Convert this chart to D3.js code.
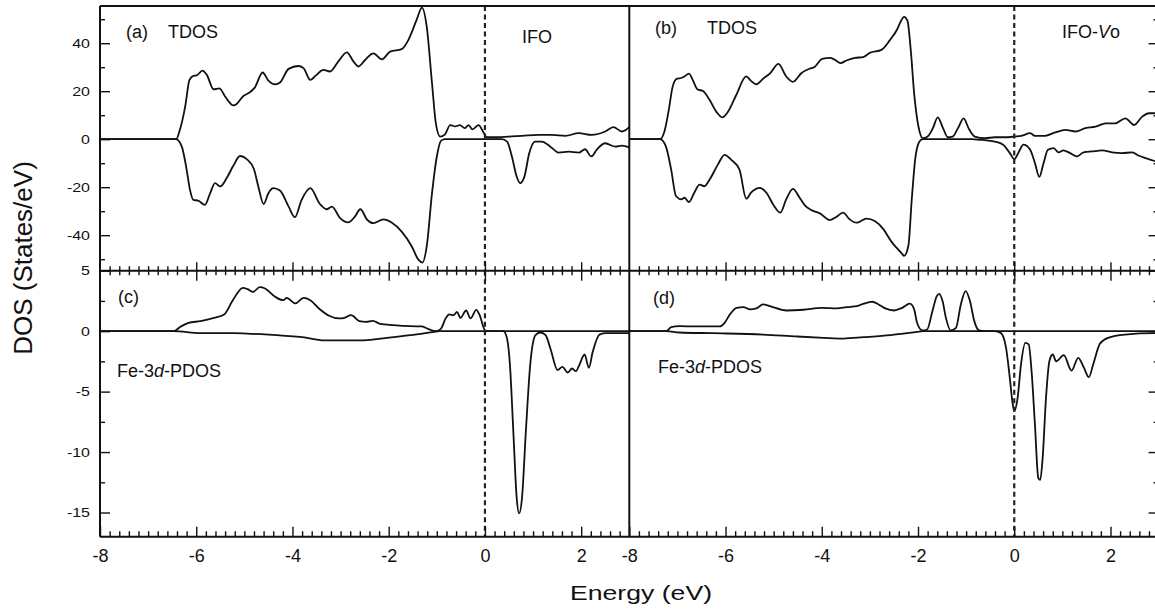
<!DOCTYPE html>
<html>
<head>
<meta charset="utf-8">
<title>DOS</title>
<script src="https://d3js.org/d3.v7.min.js"></script>
<style>
  body { margin: 0; background: #fff; }
  svg text { font-family: "Liberation Sans", Arial, sans-serif; fill: #111; }
  .curve { fill: none; stroke: #111; stroke-width: 1.8; stroke-linejoin: round; }
  .frame { stroke: #111; stroke-width: 2; }
  .tick line { stroke: #111; stroke-width: 1.4; }
</style>
</head>
<body>
<div id="chart"></div>
<script>
// ---- data: [energy (eV), DOS] ----
var tdosIfoUp = [[-8,0],[-6.42,0],[-6.34,3.9],[-6.23,13.6],[-6.14,24.7],[-6.06,26.4],[-5.99,26.6],[-5.87,28.6],[-5.78,26.8],[-5.64,20.8],[-5.52,21.2],[-5.40,17.8],[-5.23,14.1],[-5.16,14.7],[-5.02,18.0],[-4.92,19.1],[-4.78,21.6],[-4.62,27.8],[-4.50,24.4],[-4.36,22.8],[-4.26,23.6],[-4.08,29.3],[-3.88,30.5],[-3.77,29.6],[-3.63,24.7],[-3.50,26.8],[-3.36,28.9],[-3.22,28.2],[-3.05,32.3],[-2.87,36.2],[-2.73,32.3],[-2.63,30.3],[-2.49,33.0],[-2.32,35.8],[-2.14,33.3],[-1.97,36.5],[-1.73,37.5],[-1.59,41.4],[-1.42,49.7],[-1.31,54.8],[-1.21,46.9],[-1.10,23.3],[-1.02,6.6],[-0.93,1.1],[-0.84,1.8],[-0.72,5.9],[-0.62,5.3],[-0.52,5.9],[-0.42,4.6],[-0.34,5.9],[-0.26,4.1],[-0.13,5.9],[-0.06,3.9],[0.04,0.8],[0.28,0.8],[0.49,1.1],[0.77,1.4],[1.11,1.8],[1.39,1.8],[1.67,1.4],[1.95,2.5],[2.22,1.8],[2.50,3.2],[2.67,5.0],[2.85,3.2],[3.0,5.0]];
var tdosIfoDown = [[-8,0],[-6.42,0],[-6.30,-3.1],[-6.21,-11.4],[-6.13,-21.1],[-6.06,-25.3],[-5.96,-25.6],[-5.82,-27.4],[-5.71,-22.5],[-5.61,-18.3],[-5.50,-19.7],[-5.37,-16.3],[-5.23,-11.1],[-5.09,-7.0],[-4.95,-8.3],[-4.80,-12.5],[-4.71,-19.7],[-4.60,-27.0],[-4.50,-22.5],[-4.40,-20.4],[-4.26,-21.4],[-4.08,-28.1],[-3.95,-32.5],[-3.81,-25.3],[-3.63,-20.4],[-3.43,-27.0],[-3.29,-29.2],[-3.18,-28.1],[-3.01,-32.9],[-2.84,-34.7],[-2.70,-32.2],[-2.59,-29.2],[-2.45,-33.5],[-2.32,-35.0],[-2.11,-33.4],[-1.94,-34.7],[-1.73,-38.5],[-1.52,-44.7],[-1.38,-50.3],[-1.30,-51.4],[-1.21,-44.7],[-1.10,-22.5],[-1.00,-7.2],[-0.91,-0.6],[-0.83,0],[0.35,0],[0.46,-1.0],[0.56,-7.2],[0.66,-15.6],[0.73,-18.3],[0.82,-15.6],[0.92,-5.9],[1.04,-1.0],[1.18,-1.0],[1.36,-3.1],[1.53,-5.6],[1.74,-5.2],[1.95,-5.6],[2.08,-4.2],[2.21,-7.2],[2.33,-4.2],[2.50,-1.7],[2.71,-3.1],[2.85,-2.7],[3.0,-3.4]];
var tdosVoUp = [[-8,0],[-7.36,0],[-7.27,3.2],[-7.18,12.1],[-7.10,21.8],[-7.01,25.2],[-6.92,25.5],[-6.85,26.2],[-6.76,27.3],[-6.68,24.6],[-6.58,20.7],[-6.47,20.1],[-6.33,16.3],[-6.19,11.4],[-6.07,9.1],[-5.95,11.4],[-5.78,18.3],[-5.57,26.2],[-5.47,24.3],[-5.36,22.9],[-5.22,25.2],[-5.08,27.3],[-4.90,31.4],[-4.74,26.2],[-4.60,23.9],[-4.42,27.6],[-4.25,29.4],[-4.15,30.1],[-3.99,33.5],[-3.83,33.9],[-3.73,33.1],[-3.61,31.7],[-3.49,32.8],[-3.31,33.9],[-3.14,34.2],[-3.00,36.0],[-2.76,37.2],[-2.58,41.4],[-2.44,45.5],[-2.36,49.0],[-2.29,51.0],[-2.22,49.4],[-2.15,37.0],[-2.08,19.0],[-1.99,5.2],[-1.90,0.4],[-1.80,1.1],[-1.69,4.6],[-1.59,9.1],[-1.48,4.6],[-1.38,0.8],[-1.28,1.1],[-1.17,4.6],[-1.05,8.7],[-0.95,4.6],[-0.82,1.1],[-0.61,0.4],[-0.40,0.8],[-0.20,0.8],[0.01,1.1],[0.15,1.4],[0.33,2.5],[0.43,1.4],[0.64,1.4],[0.85,2.8],[1.06,3.9],[1.27,3.2],[1.48,4.6],[1.69,5.2],[1.90,6.6],[2.10,6.6],[2.31,8.7],[2.49,5.9],[2.66,9.4],[2.80,10.8],[3.0,10.8]];
var tdosVoDown = [[-8,0],[-7.36,0],[-7.24,-3.0],[-7.13,-12.7],[-7.03,-23.7],[-6.92,-25.1],[-6.85,-24.4],[-6.76,-26.2],[-6.65,-22.3],[-6.54,-18.9],[-6.44,-19.6],[-6.33,-16.8],[-6.16,-10.6],[-6.02,-6.5],[-5.88,-8.6],[-5.71,-12.7],[-5.57,-24.8],[-5.47,-22.3],[-5.29,-20.3],[-5.15,-22.3],[-5.01,-27.2],[-4.86,-30.6],[-4.74,-25.1],[-4.60,-20.7],[-4.46,-24.4],[-4.35,-27.6],[-4.22,-29.5],[-4.04,-30.9],[-3.83,-33.7],[-3.69,-32.3],[-3.56,-30.6],[-3.42,-33.4],[-3.28,-34.8],[-3.07,-33.1],[-2.90,-34.1],[-2.72,-37.5],[-2.55,-42.8],[-2.41,-46.0],[-2.33,-47.8],[-2.29,-48.6],[-2.20,-44.4],[-2.13,-25.1],[-2.06,-8.6],[-1.97,-1.0],[-1.90,0],[-0.89,0],[-0.68,-0.3],[-0.40,-1.0],[-0.23,-2.3],[-0.09,-5.8],[0.0,-8.3],[0.10,-5.1],[0.19,-2.3],[0.33,-4.4],[0.43,-9.9],[0.52,-15.7],[0.61,-9.9],[0.70,-4.4],[0.82,-3.7],[0.92,-5.5],[1.02,-4.7],[1.16,-5.8],[1.30,-7.2],[1.44,-5.5],[1.62,-5.1],[1.83,-4.7],[2.03,-5.5],[2.24,-5.8],[2.45,-5.5],[2.59,-6.9],[2.73,-7.9],[2.94,-9.2],[3.0,-9.5]];

var pdosIfoUp = [[-8,0],[-6.47,0],[-6.33,0.36],[-6.16,0.69],[-5.91,0.83],[-5.63,1.10],[-5.42,1.38],[-5.24,2.56],[-5.03,3.58],[-4.93,3.47],[-4.82,3.25],[-4.68,3.64],[-4.57,3.53],[-4.36,2.84],[-4.19,2.56],[-4.12,2.75],[-3.94,2.29],[-3.77,2.75],[-3.63,2.56],[-3.45,1.87],[-3.24,1.27],[-3.03,1.05],[-2.92,1.10],[-2.78,1.32],[-2.61,0.83],[-2.47,0.77],[-2.33,0.85],[-2.18,0.61],[-1.90,0.50],[-1.55,0.41],[-1.31,0.39],[-1.17,0.17],[-1.03,0],[-0.92,0.17],[-0.81,1.10],[-0.74,1.38],[-0.65,1.32],[-0.58,1.60],[-0.51,1.10],[-0.39,1.71],[-0.30,1.05],[-0.18,1.76],[-0.11,1.32],[0.0,0.08],[0.07,0],[3.0,0]];
var pdosIfoDown = [[-8,0],[-6.47,0],[-5.91,-0.17],[-5.21,-0.17],[-4.86,-0.22],[-4.15,-0.39],[-3.80,-0.50],[-3.34,-0.77],[-2.61,-0.77],[-2.04,-0.55],[-1.55,-0.33],[-1.06,-0.06],[-0.95,0],[0.38,0],[0.45,-0.47],[0.52,-2.81],[0.59,-8.32],[0.66,-13.8],[0.71,-15.07],[0.77,-13.8],[0.85,-8.32],[0.94,-2.81],[1.05,-0.33],[1.15,-0.11],[1.26,-0.33],[1.36,-1.43],[1.51,-3.22],[1.61,-2.95],[1.72,-3.42],[1.81,-3.09],[1.89,-3.31],[1.96,-2.81],[2.07,-1.93],[2.16,-3.03],[2.24,-1.71],[2.38,-0.28],[2.52,-0.17],[3.0,-0.17]];
var pdosVoUp = [[-8,0],[-7.23,0],[-7.13,0.33],[-6.96,0.41],[-6.61,0.39],[-6.12,0.39],[-6.02,0.69],[-5.91,1.38],[-5.77,1.93],[-5.63,1.99],[-5.49,1.80],[-5.36,1.88],[-5.22,2.21],[-5.08,2.07],[-4.73,1.71],[-4.38,1.77],[-4.00,1.93],[-3.69,1.88],[-3.48,1.99],[-3.27,2.07],[-3.13,2.27],[-2.95,2.43],[-2.82,2.21],[-2.68,1.88],[-2.50,1.71],[-2.33,1.93],[-2.17,2.27],[-2.08,1.80],[-2.02,0.69],[-1.91,0.06],[-1.81,0.14],[-1.70,1.66],[-1.61,2.90],[-1.56,3.09],[-1.49,2.49],[-1.42,1.10],[-1.32,0.06],[-1.21,0.28],[-1.11,2.21],[-1.01,3.31],[-0.92,2.49],[-0.83,0.83],[-0.73,0.06],[-0.62,0],[3.0,0]];
var pdosVoDown = [[-8,0],[-7.23,0],[-6.96,-0.11],[-6.26,-0.17],[-5.22,-0.28],[-4.52,-0.44],[-3.96,-0.55],[-3.55,-0.61],[-3.13,-0.50],[-2.57,-0.33],[-2.02,-0.06],[-1.90,0],[-0.41,0],[-0.28,-0.14],[-0.17,-1.38],[-0.10,-3.59],[-0.03,-6.08],[0.0,-6.63],[0.07,-5.52],[0.14,-2.76],[0.23,-0.97],[0.30,-1.10],[0.36,-3.31],[0.43,-7.73],[0.50,-12.15],[0.54,-12.3],[0.59,-10.5],[0.66,-5.52],[0.73,-2.49],[0.80,-1.93],[0.87,-2.49],[1.03,-1.99],[1.19,-3.26],[1.33,-2.21],[1.45,-3.04],[1.55,-3.81],[1.64,-2.76],[1.78,-1.05],[1.95,-0.55],[2.30,-0.28],[2.91,-0.17],[3.0,-0.17]];

var energyTicks = [-8, -6, -4, -2, 0, 2];
var tdosTicks = [-40, -20, 0, 20, 40];
var tdosMinor = [-50, -30, -10, 10, 30, 50];
var pdosTicks = [-15, -10, -5, 0, 5];
var pdosMinor = [-12.5, -7.5, -2.5, 2.5];

var W = 1155, H = 613;
// frame edges (pixels)
var xLeft = 100, xMid = 629.3, xRight = 1158.6;
var yUpper = 6, ySplit = 270.7, yLower = 536.7;

var svg = d3.select('#chart').append('svg')
  .attr('width', W).attr('height', H);

var xL = d3.scaleLinear().domain([-8, 3]).range([xLeft, xMid]);
var xR = d3.scaleLinear().domain([-8, 3]).range([xMid, xRight]);
var yTop = d3.scaleLinear().domain([-54.8, 55.5]).range([ySplit, yUpper]);
var yBot = d3.scaleLinear().domain([-17, 5]).range([yLower, ySplit]);

var minorE = d3.range(-8, 3.001, 0.2).map(function(v) { return Math.round(v * 10) / 10; })
  .filter(function(v) { return v % 2 !== 0 && v > -8 && v < 3; });

var fmt = function(d) { return String(d); }; // plain hyphen minus, like the figure

var defs = svg.append('defs');
var panels = [
  {id: 'a', x: xL, y: yTop, up: tdosIfoUp, dn: tdosIfoDown},
  {id: 'b', x: xR, y: yTop, up: tdosVoUp, dn: tdosVoDown},
  {id: 'c', x: xL, y: yBot, up: pdosIfoUp, dn: pdosIfoDown},
  {id: 'd', x: xR, y: yBot, up: pdosVoUp, dn: pdosVoDown}
];

panels.forEach(function(p) {
  var x0 = p.x.range()[0], x1 = p.x.range()[1];
  var y0 = p.y.range()[1], y1 = p.y.range()[0];
  defs.append('clipPath').attr('id', 'clip-' + p.id)
    .append('rect').attr('x', x0).attr('y', y0).attr('width', x1 - x0).attr('height', y1 - y0);

  var line = d3.line()
    .x(function(d) { return p.x(d[0]); })
    .y(function(d) { return p.y(d[1]); })
    .curve(d3.curveMonotoneX);

  var g = svg.append('g').attr('clip-path', 'url(#clip-' + p.id + ')');
  g.append('path').attr('class', 'curve').attr('d', line(p.up));
  g.append('path').attr('class', 'curve').attr('d', line(p.dn));

  // Fermi level
  g.append('line')
    .attr('x1', p.x(0)).attr('x2', p.x(0))
    .attr('y1', y0).attr('y2', y1)
    .attr('stroke', '#222').attr('stroke-width', 2.2)
    .attr('stroke-dasharray', '5,3.5');
});

function noDomain(g) { g.select('.domain').remove(); }

// y axes (labels on the left, bare ticks on the right)
function yAxes(y, major, minor) {
  var a = svg.append('g').attr('transform', 'translate(' + xLeft + ',0)')
    .call(d3.axisLeft(y).tickValues(major).tickSize(-10).tickPadding(10).tickFormat(fmt))
    .call(noDomain);
  a.selectAll('text').style('font-size', '13px').each(function() {
    var w = this.getComputedTextLength();
    d3.select(this).attr('textLength', w * 1.23).attr('lengthAdjust', 'spacingAndGlyphs');
  });
  svg.append('g').attr('transform', 'translate(' + xLeft + ',0)')
    .call(d3.axisLeft(y).tickValues(minor).tickSize(-5).tickFormat(''))
    .call(noDomain);
  svg.append('g').attr('transform', 'translate(' + xRight + ',0)')
    .call(d3.axisRight(y).tickValues(major).tickSize(-10).tickFormat(''))
    .call(noDomain);
  svg.append('g').attr('transform', 'translate(' + xRight + ',0)')
    .call(d3.axisRight(y).tickValues(minor).tickSize(-5).tickFormat(''))
    .call(noDomain);
}
yAxes(yTop, tdosTicks, tdosMinor);
yAxes(yBot, pdosTicks, pdosMinor);

// energy axes
var inner = energyTicks.filter(function(v) { return v > -8; });
[xL, xR].forEach(function(x) {
  var b = svg.append('g').attr('transform', 'translate(0,' + yLower + ')')
    .call(d3.axisBottom(x).tickValues(energyTicks).tickSize(-10).tickPadding(13).tickFormat(fmt))
    .call(noDomain);
  b.selectAll('text').style('font-size', '18px');
  svg.append('g').attr('transform', 'translate(0,' + yLower + ')')
    .call(d3.axisBottom(x).tickValues(minorE).tickSize(-5.5).tickFormat(''))
    .call(noDomain);
  // split line: ticks up into the top panel and down into the bottom one
  svg.append('g').attr('transform', 'translate(0,' + ySplit + ')')
    .call(d3.axisBottom(x).tickValues(inner).tickSize(-8.5).tickFormat(''))
    .call(noDomain);
  svg.append('g').attr('transform', 'translate(0,' + ySplit + ')')
    .call(d3.axisTop(x).tickValues(inner).tickSize(-10).tickFormat(''))
    .call(noDomain);
  svg.append('g').attr('transform', 'translate(0,' + ySplit + ')')
    .call(d3.axisBottom(x).tickValues(minorE).tickSize(-4.5).tickFormat(''))
    .call(noDomain);
  svg.append('g').attr('transform', 'translate(0,' + ySplit + ')')
    .call(d3.axisTop(x).tickValues(minorE).tickSize(-4.5).tickFormat(''))
    .call(noDomain);
});

// frames
var frameLines = [
  [xLeft, yUpper, xRight, yUpper], [xLeft, yLower, xRight, yLower], [xLeft, ySplit, xRight, ySplit],
  [xLeft, yUpper, xLeft, yLower], [xMid, yUpper, xMid, yLower], [xRight, yUpper, xRight, yLower]
];
svg.selectAll('line.frame').data(frameLines).enter().append('line')
  .attr('class', 'frame')
  .attr('x1', function(d) { return d[0]; }).attr('y1', function(d) { return d[1]; })
  .attr('x2', function(d) { return d[2]; }).attr('y2', function(d) { return d[3]; });

// panel annotations
function label(x, y, parts) {
  var t = svg.append('text').attr('x', x).attr('y', y).style('font-size', '18px');
  parts.forEach(function(p) {
    t.append('tspan').text(p[0]).style('font-style', p[1] ? 'italic' : 'normal');
  });
  return t;
}
label(126, 38, [['(a)']]);
label(168, 38, [['TDOS']]);
label(522, 42.5, [['IFO']]);
label(655, 34, [['(b)']]);
label(707, 33.5, [['TDOS']]);
label(1062, 38, [['IFO-'], ['V', true], ['o']]);
label(118, 302.5, [['(c)']]);
label(117, 377, [['Fe-3'], ['d', true], ['-PDOS']]);
label(653, 304, [['(d)']]);
label(658, 372.5, [['Fe-3'], ['d', true], ['-PDOS']]);

// axis titles
svg.append('text').attr('x', 641).attr('y', 600)
  .attr('text-anchor', 'middle').style('font-size', '21px')
  .attr('textLength', 142).attr('lengthAdjust', 'spacingAndGlyphs')
  .text('Energy (eV)');

svg.append('text')
  .attr('transform', 'translate(32,258) rotate(-90)')
  .attr('text-anchor', 'middle').style('font-size', '26px')
  .text('DOS (States/eV)');
</script>
</body>
</html>
